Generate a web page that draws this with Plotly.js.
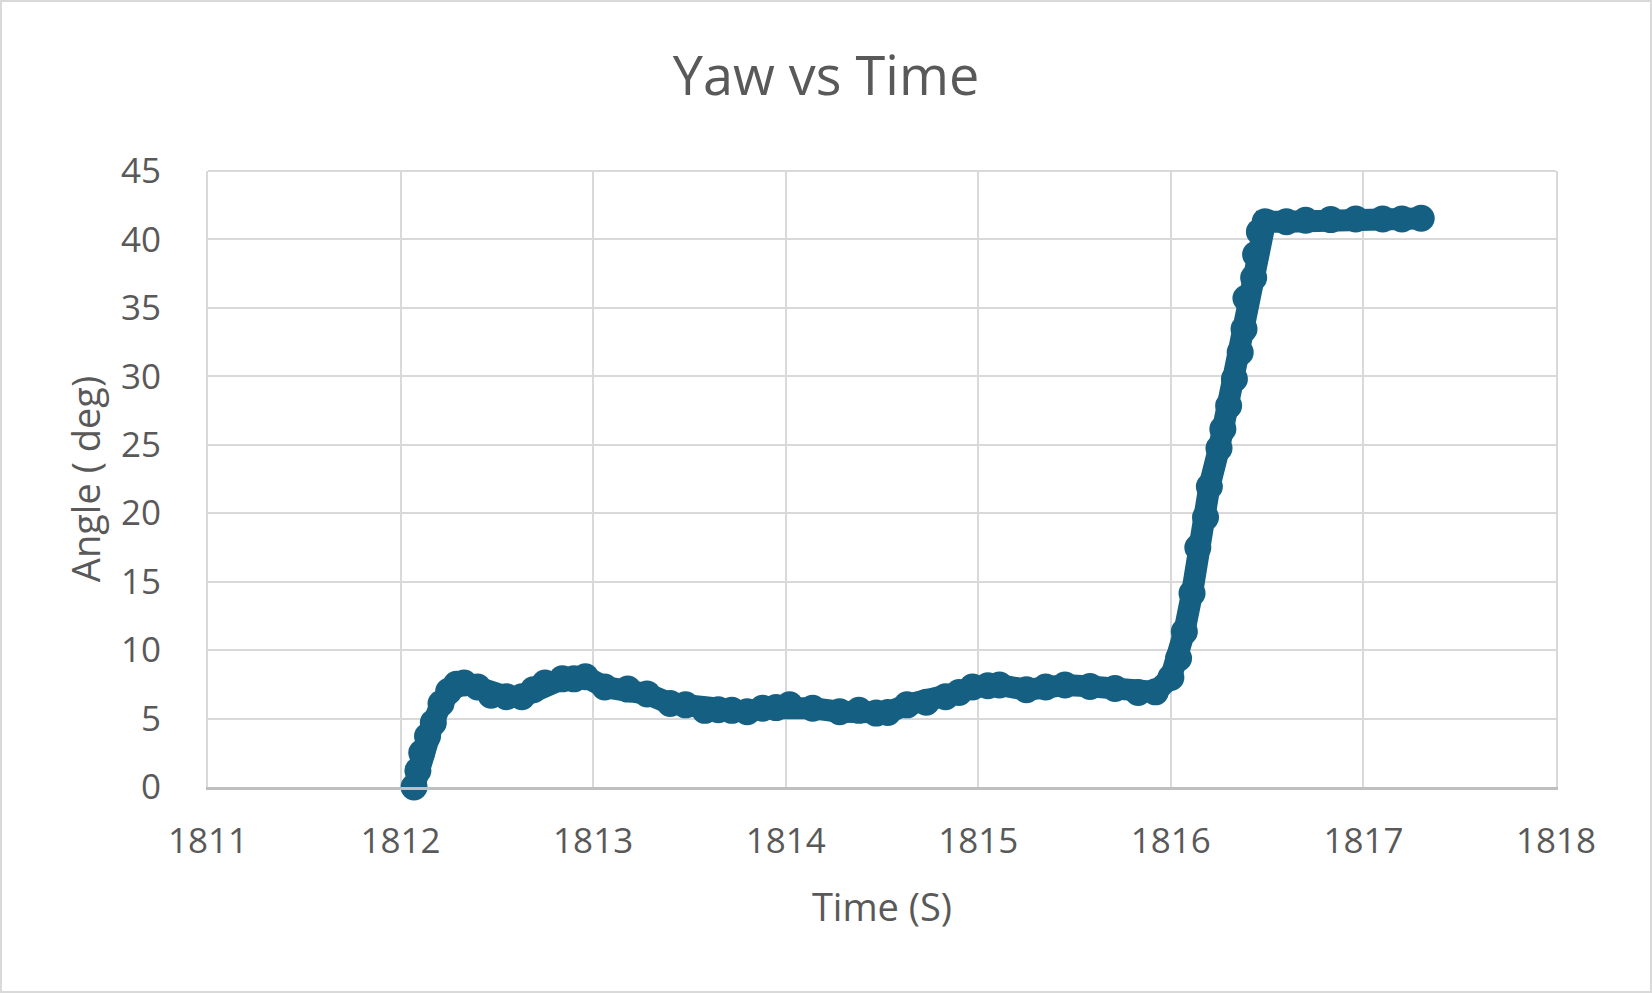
<!DOCTYPE html>
<html>
<head>
<meta charset="utf-8">
<script src="https://cdn.plot.ly/plotly-3.0.1.min.js"></script>
<style>
  html, body { margin: 0; padding: 0; background: #ffffff; }
  #chart { width: 1652px; height: 993px; box-sizing: border-box; border: 2px solid #d9d9d9; }
</style>
</head>
<body>
<div id="chart"></div>
<script>
// Time (s)
const timeS = [1812.07, 1812.09, 1812.11, 1812.14, 1812.17, 1812.21, 1812.25, 1812.29, 1812.33, 1812.40,
  1812.47, 1812.55, 1812.63, 1812.69, 1812.75, 1812.84, 1812.90, 1812.96, 1813.06, 1813.18,
  1813.28, 1813.40, 1813.48, 1813.58, 1813.65, 1813.72, 1813.80, 1813.88, 1813.95, 1814.02,
  1814.14, 1814.28, 1814.38, 1814.47, 1814.53, 1814.63, 1814.73, 1814.83, 1814.90, 1814.97,
  1815.05, 1815.11, 1815.25, 1815.35, 1815.45, 1815.58, 1815.71, 1815.83, 1815.92, 1816.00,
  1816.04, 1816.07, 1816.11, 1816.14, 1816.18, 1816.20, 1816.25, 1816.27, 1816.30, 1816.33,
  1816.36, 1816.38, 1816.39, 1816.43, 1816.44, 1816.46, 1816.49, 1816.60, 1816.70, 1816.83,
  1816.96, 1817.10, 1817.20, 1817.30];
// Yaw angle (deg)
const yawDeg = [0.0, 1.2, 2.5, 3.7, 4.7, 6.1, 7.0, 7.5, 7.6, 7.3,
  6.7, 6.6, 6.6, 7.1, 7.6, 7.9, 7.9, 8.05, 7.3, 7.15,
  6.8, 6.1, 6.0, 5.6, 5.65, 5.6, 5.5, 5.75, 5.8, 6.0,
  5.75, 5.5, 5.6, 5.4, 5.45, 6.0, 6.2, 6.6, 6.9, 7.3,
  7.4, 7.45, 7.1, 7.3, 7.45, 7.35, 7.2, 6.9, 6.95, 8.0,
  9.4, 11.35, 14.15, 17.5, 19.7, 21.95, 24.75, 26.15, 27.85, 29.8,
  31.75, 33.45, 35.7, 37.2, 38.9, 40.55, 41.3, 41.3, 41.4, 41.45,
  41.5, 41.5, 41.5, 41.55];

const xTicks = [1811, 1812, 1813, 1814, 1815, 1816, 1817, 1818];
const yTicks = [0, 5, 10, 15, 20, 25, 30, 35, 40, 45];

const lineColor = '#156082';
const textColor = '#595959';
const fontFam = '"Open Sans", "Liberation Sans", sans-serif';

const trace = {
  x: timeS, y: yawDeg, type: 'scatter', mode: 'lines+markers',
  line: { color: lineColor, width: 22 },
  marker: { color: lineColor, size: 27 },
  cliponaxis: false,
  hoverinfo: 'x+y'
};

const layout = {
  width: 1648, height: 989,
  paper_bgcolor: '#ffffff', plot_bgcolor: '#ffffff',
  margin: { l: 206, r: 94, t: 169, b: 204 },
  showlegend: false,
  font: { family: fontFam, color: textColor },
  title: { text: 'Yaw vs Time', font: { size: 54, color: textColor, family: fontFam },
           xref: 'container', x: 0.5, xanchor: 'center', yref: 'container', y: 0.925, yanchor: 'middle' },
  xaxis: {
    range: [1811, 1818], tickvals: xTicks, ticktext: xTicks.map(String),
    showgrid: true, gridcolor: '#d9d9d9', gridwidth: 2,
    zeroline: false, showline: true, linecolor: '#bfbfbf', linewidth: 3,
    ticks: '', ticklabelstandoff: 21,
    tickfont: { size: 35, color: textColor, family: fontFam },
    title: { text: 'Time (S)', font: { size: 38, color: textColor, family: fontFam }, standoff: 33 }
  },
  yaxis: {
    range: [0, 45], tickvals: yTicks, ticktext: yTicks.map(String),
    showgrid: true, gridcolor: '#d9d9d9', gridwidth: 2,
    zeroline: false, showline: true, mirror: true, linecolor: '#d9d9d9', linewidth: 2,
    ticks: '', ticklabelstandoff: 38,
    tickfont: { size: 35, color: textColor, family: fontFam },
    title: { text: 'Angle ( deg)', font: { size: 38, color: textColor, family: fontFam }, standoff: 9 }
  },
  shapes: [
    { type: 'line', xref: 'paper', yref: 'paper', x0: 0, x1: 1, y0: 1, y1: 1,
      line: { color: '#d9d9d9', width: 2 }, layer: 'below' }
  ]
};

Plotly.newPlot('chart', [trace], layout, { displayModeBar: false, responsive: false });
</script>
</body>
</html>
